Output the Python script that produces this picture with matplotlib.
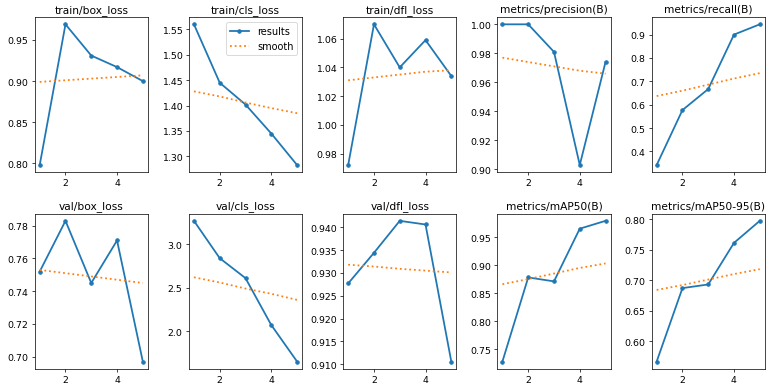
import numpy as np
import matplotlib
matplotlib.use("Agg")
import matplotlib.pyplot as plt
from matplotlib.ticker import MultipleLocator

epochs = [1, 2, 3, 4, 5]
titles = ["train/box_loss", "train/cls_loss", "train/dfl_loss", "metrics/precision(B)", "metrics/recall(B)",
          "val/box_loss", "val/cls_loss", "val/dfl_loss", "metrics/mAP50(B)", "metrics/mAP50-95(B)"]

# results per metric
train_box = [0.798, 0.969, 0.931, 0.917, 0.900]
train_cls = [1.560, 1.445, 1.402, 1.345, 1.283]
train_dfl = [0.972, 1.070, 1.040, 1.059, 1.034]
precision = [1.000, 1.000, 0.981, 0.903, 0.974]
recall = [0.342, 0.577, 0.667, 0.900, 0.944]
val_box = [0.752, 0.783, 0.745, 0.771, 0.697]
val_cls = [3.27, 2.84, 2.61, 2.07, 1.65]
val_dfl = [0.9277, 0.9344, 0.9414, 0.9406, 0.9106]
map50 = [0.728, 0.878, 0.871, 0.965, 0.979]
map50_95 = [0.567, 0.687, 0.693, 0.761, 0.797]

# smoothed curves
train_box_s = [0.899, 0.901, 0.903, 0.905, 0.907]
train_cls_s = [1.428, 1.418, 1.406, 1.395, 1.385]
train_dfl_s = [1.031, 1.033, 1.035, 1.037, 1.038]
precision_s = [0.977, 0.974, 0.971, 0.968, 0.966]
recall_s = [0.637, 0.660, 0.686, 0.712, 0.735]
val_box_s = [0.753, 0.751, 0.749, 0.747, 0.745]
val_cls_s = [2.62, 2.56, 2.49, 2.43, 2.36]
val_dfl_s = [0.9318, 0.9314, 0.9309, 0.9305, 0.9301]
map50_s = [0.866, 0.875, 0.885, 0.895, 0.903]
map50_95_s = [0.684, 0.692, 0.701, 0.710, 0.718]

# y tick spacing of each panel
ytick_steps = [0.05, 0.05, 0.02, 0.02, 0.1, 0.02, 0.5, 0.005, 0.05, 0.05]

results = [train_box, train_cls, train_dfl, precision, recall,
           val_box, val_cls, val_dfl, map50, map50_95]
smooth = [train_box_s, train_cls_s, train_dfl_s, precision_s, recall_s,
          val_box_s, val_cls_s, val_dfl_s, map50_s, map50_95_s]

fig, ax = plt.subplots(2, 5, figsize=(12, 6.078), dpi=64)
ax = ax.ravel()
for i in range(10):
    ax[i].plot(epochs, results[i], marker=".", label="results", linewidth=2, markersize=8)
    ax[i].plot(epochs, smooth[i], ":", label="smooth", linewidth=2)
    ax[i].set_title(titles[i], fontsize=12)
    ax[i].yaxis.set_major_locator(MultipleLocator(ytick_steps[i]))
    ax[i].tick_params(labelsize=10.5)
ax[1].legend(fontsize=11)

plt.subplots_adjust(left=0.045, right=0.996, top=0.953, bottom=0.05, wspace=0.36, hspace=0.27)
plt.savefig("out.png", dpi=64)
